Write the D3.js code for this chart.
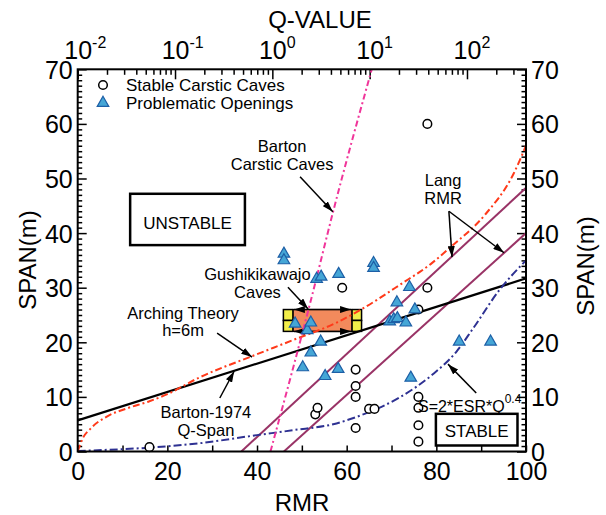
<!DOCTYPE html>
<html><head><meta charset="utf-8">
<script src="https://cdn.jsdelivr.net/npm/d3@7"></script>
<style>
body{margin:0;background:#fff;}
svg{display:block;font-family:"Liberation Sans",Arial,Helvetica,sans-serif;}
</style></head><body>
<svg id="chart" width="606" height="515"></svg>
<script>
// ---------- axis ticks ----------
const rmrTicks = [0, 20, 40, 60, 80, 100];
const rmrMinorTicks = [10, 30, 50, 70, 90];
const spanTicks = [0, 10, 20, 30, 40, 50, 60, 70];
const qTicks = [0.01, 0.1, 1, 10, 100];
const qExponents = ["-2", "-1", "0", "1", "2"];

// ---------- case histories ----------
const stableRMR  = [16, 53, 53.5, 59, 62, 62, 62, 62, 65, 66.2, 76, 76, 76, 76, 76, 78, 78];
const stableSpan = [0.8, 6.8, 8, 30, 15, 12, 10, 4.3, 7.8, 7.8, 10, 8, 4.8, 1.8, 26, 30, 60];

const problemRMR  = [46, 46, 48.5, 51.2, 52, 52, 50.2, 53.3, 54.3, 54.2, 55.2, 58.1, 58.2,
                     66, 66, 69.6, 70.5, 71.3, 73.2, 71.2, 74, 75.2, 74.3, 85.1, 92.1];
const problemSpan = [36.2, 35, 23.4, 22.2, 23.6, 18.1, 15.4, 31.6, 32, 20.1, 13.8, 15.1, 32.5,
                     34.5, 33.6, 23.8, 24.2, 24.4, 23.6, 27.3, 30.1, 26, 13.5, 20.1, 20.1];

// ---------- design curves ----------
const archRMR  = [0, 1, 3, 6.5, 11, 16, 20, 27, 39, 48, 58, 63, 72, 79, 83, 91, 97, 100];
const archSpan = [0, 2.2, 4.3, 6.4, 7.9, 9.2, 10.5, 13.5, 17.5, 20.4, 23.7, 25.9, 30.6, 34.5, 37.3, 43.5, 50.5, 56];

const bartonRMR  = [0, 100];
const bartonSpan = [5.7, 31.7];

const esrRMR  = [0, 6.5, 14, 27, 40, 48, 57, 64, 72, 79, 84.5, 88, 94, 100];
const esrSpan = [0.1, 0.3, 0.6, 1.5, 3.0, 3.9, 5.0, 6.9, 10.0, 14.0, 18.3, 22.3, 29.5, 35];

const carsticRMR  = [43, 52.2, 57, 65.6];
const carsticSpan = [0, 28.3, 44, 70];

const langUpperRMR  = [36.5, 100];
const langUpperSpan = [0, 48.3];
const langLowerRMR  = [46, 100];
const langLowerSpan = [0, 40];

// Gushikikawajo caves: RMR range and span range
const gushiRMR  = [48, 61.2];
const gushiSpan = [22, 26];

// ---------- layout ----------
const plot = {left: 77.7, right: 526, top: 69.3, bottom: 451.5};

const svg = d3.select("#chart");
const x = d3.scaleLinear([0, 100], [plot.left, plot.right]);
const y = d3.scaleLinear([0, 70], [plot.bottom, plot.top]);
const q = d3.scaleLog([0.01, 404], [plot.left, plot.right]);

const zip = (a, b) => a.map((v, i) => [v, b[i]]);

const defs = svg.append("defs");
defs.append("clipPath").attr("id", "plotClip").append("rect")
  .attr("x", plot.left).attr("y", plot.top)
  .attr("width", plot.right - plot.left).attr("height", plot.bottom - plot.top);
defs.append("marker").attr("id", "arrow")
  .attr("viewBox", "0 0 11 7").attr("refX", 11).attr("refY", 3.5)
  .attr("markerWidth", 11).attr("markerHeight", 7)
  .attr("markerUnits", "userSpaceOnUse").attr("orient", "auto-start-reverse")
  .attr("preserveAspectRatio", "none")
  .append("path").attr("d", "M0,0L11,3.5L0,7Z").attr("fill", "#000");

// ---------- axes ----------
const tickFont = 25;
function styleAxis(g) {
  g.select(".domain").remove();
  g.selectAll(".tick line").attr("stroke", "#000").attr("stroke-width", 1.5);
  g.selectAll("text").attr("font-size", tickFont).attr("fill", "#000");
  g.attr("font-family", null).attr("font-size", null);
}

// left
svg.append("g").attr("transform", `translate(${plot.left},0)`)
  .call(d3.axisLeft(y).tickValues(spanTicks).tickSize(-9).tickPadding(5))
  .call(styleAxis).selectAll("text").attr("dy", "0.36em");
svg.append("g").attr("transform", `translate(${plot.left},0)`)
  .call(d3.axisLeft(y).tickValues(d3.range(1, 70).filter(v => v % 10)).tickSize(-4.5).tickFormat(""))
  .call(styleAxis);
// right
svg.append("g").attr("transform", `translate(${plot.right},0)`)
  .call(d3.axisRight(y).tickValues(spanTicks).tickSize(-9).tickPadding(5))
  .call(styleAxis).selectAll("text").attr("dy", "0.36em");
svg.append("g").attr("transform", `translate(${plot.right},0)`)
  .call(d3.axisRight(y).tickValues(d3.range(1, 70).filter(v => v % 10)).tickSize(-4.5).tickFormat(""))
  .call(styleAxis);
// bottom
svg.append("g").attr("transform", `translate(0,${plot.bottom})`)
  .call(d3.axisBottom(x).tickValues(rmrTicks).tickSize(-6).tickPadding(11))
  .call(styleAxis);
svg.append("g").attr("transform", `translate(0,${plot.bottom})`)
  .call(d3.axisBottom(x).tickValues(rmrMinorTicks).tickSize(-6).tickFormat(""))
  .call(styleAxis);
// top (Q, logarithmic)
const topAxis = svg.append("g").attr("transform", `translate(0,${plot.top})`)
  .call(d3.axisTop(q).tickValues(qTicks).tickSize(-10).tickPadding(10).tickFormat(() => "10"))
  .call(styleAxis);
topAxis.selectAll(".tick text")
  .attr("text-anchor", "start").attr("x", -13.9)
  .each(function(d, i) {
    d3.select(this).append("tspan").attr("font-size", 16).attr("dy", -11).text(qExponents[i]);
  });
const qMinor = [];
[-2, -1, 0, 1, 2].forEach(e => { for (let m = 2; m <= 9; m++) { const v = m * Math.pow(10, e); if (v < 404) qMinor.push(v); } });
svg.append("g").attr("transform", `translate(0,${plot.top})`)
  .call(d3.axisTop(q).tickValues(qMinor).tickSize(-5.5).tickFormat(""))
  .call(styleAxis);

// axis titles
svg.append("text").attr("x", 320).attr("y", 28).attr("text-anchor", "middle")
  .attr("font-size", 24).text("Q-VALUE");
svg.append("text").attr("x", 302).attr("y", 511).attr("text-anchor", "middle")
  .attr("font-size", 24).text("RMR");
svg.append("text").attr("transform", "translate(36,260) rotate(-90)").attr("text-anchor", "middle")
  .attr("font-size", 24).text("SPAN(m)");
svg.append("text").attr("transform", "translate(594,266) rotate(-90)").attr("text-anchor", "middle")
  .attr("font-size", 24).text("SPAN(m)");

// ---------- Gushikikawajo caves box ----------
const boxG = svg.append("g");
const bx0 = x(gushiRMR[0]), bx1 = x(gushiRMR[1]);
const by0 = y(gushiSpan[1]), by1 = y(gushiSpan[0]);
boxG.append("rect").attr("x", bx0).attr("y", by0).attr("width", bx1 - bx0).attr("height", by1 - by0)
  .attr("fill", "#f28a5c").attr("stroke", "#000").attr("stroke-width", 1.2);
const sq = 9.5;
[bx0 - sq, bx1].forEach(sx => {
  [by0, (by0 + by1) / 2].forEach(sy => {
    boxG.append("rect").attr("x", sx).attr("y", sy).attr("width", sq).attr("height", (by1 - by0) / 2)
      .attr("fill", "#f2ee4a").attr("stroke", "#000").attr("stroke-width", 1.5);
  });
});

// ---------- curves ----------
const line = d3.line().x(d => x(d[0])).y(d => y(d[1])).curve(d3.curveMonotoneX);
const curves = svg.append("g").attr("clip-path", "url(#plotClip)").attr("fill", "none");
curves.append("path").datum(zip(langUpperRMR, langUpperSpan)).attr("d", line)
  .attr("stroke", "#993366").attr("stroke-width", 2);
curves.append("path").datum(zip(langLowerRMR, langLowerSpan)).attr("d", line)
  .attr("stroke", "#993366").attr("stroke-width", 2);
curves.append("path").datum(zip(bartonRMR, bartonSpan)).attr("d", line)
  .attr("stroke", "#000").attr("stroke-width", 2.2);
curves.append("path").datum(zip(esrRMR, esrSpan)).attr("d", line)
  .attr("stroke", "#2e3192").attr("stroke-width", 2).attr("stroke-dasharray", "8,3,2,3");
curves.append("path").datum(zip(archRMR, archSpan)).attr("d", line)
  .attr("stroke", "#ff3a1a").attr("stroke-width", 2).attr("stroke-dasharray", "7,3,2,3");
curves.append("path").datum(zip(carsticRMR, carsticSpan)).attr("d", line)
  .attr("stroke", "#f0359a").attr("stroke-width", 2).attr("stroke-dasharray", "6,3,2,3");

// double-headed arrows along the box edges
[by0, by1].forEach(ay => {
  boxG.append("line").attr("x1", bx0 + 1).attr("x2", bx1 - 1).attr("y1", ay).attr("y2", ay)
    .attr("stroke", "#000").attr("stroke-width", 1.5)
    .attr("marker-start", "url(#arrow)").attr("marker-end", "url(#arrow)");
});

// ---------- markers ----------
svg.append("g").selectAll("circle").data(zip(stableRMR, stableSpan)).join("circle")
  .attr("cx", d => x(d[0])).attr("cy", d => y(d[1])).attr("r", 4.3)
  .attr("fill", "#fff").attr("stroke", "#000").attr("stroke-width", 1.5);
const tri = d3.symbol(d3.symbolTriangle, 58);
svg.append("g").selectAll("path").data(zip(problemRMR, problemSpan)).join("path")
  .attr("d", tri).attr("transform", d => `translate(${x(d[0])},${y(d[1])})`)
  .attr("fill", "#45a6d6").attr("stroke", "#1d5fa6").attr("stroke-width", 1.2);

// ---------- frame ----------
svg.append("rect").attr("x", plot.left).attr("y", plot.top)
  .attr("width", plot.right - plot.left).attr("height", plot.bottom - plot.top)
  .attr("fill", "none").attr("stroke", "#000").attr("stroke-width", 2);

// ---------- legend ----------
const legend = svg.append("g").attr("font-size", 17);
legend.append("circle").attr("cx", 103).attr("cy", 85).attr("r", 4.3)
  .attr("fill", "#fff").attr("stroke", "#000").attr("stroke-width", 1.5);
legend.append("text").attr("x", 126).attr("y", 91).text("Stable Carstic Caves");
legend.append("path").attr("d", tri).attr("transform", "translate(103,103)")
  .attr("fill", "#45a6d6").attr("stroke", "#1d5fa6").attr("stroke-width", 1.2);
legend.append("text").attr("x", 126).attr("y", 109).text("Problematic Openings");

// ---------- annotations (data coordinates) ----------
const notes = [
  {lines: ["Barton", "Carstic Caves"], at: [45.6, 54.8], gap: 17.5},
  {lines: ["Lang", "RMR"], at: [81.5, 48.6], gap: 17.5},
  {lines: ["Gushikikawajo", "Caves"], at: [40.1, 31.4], gap: 18},
  {lines: ["Arching Theory", "h=6m"], at: [23.5, 24.3], gap: 17.5},
  {lines: ["Barton-1974", "Q-Span"], at: [28.6, 6.1], gap: 17.5}
];
const ann = svg.append("g").attr("font-size", 16.5).attr("text-anchor", "middle");
notes.forEach(n => {
  const t = ann.append("text").attr("x", x(n.at[0])).attr("y", y(n.at[1]));
  n.lines.forEach((s, i) => t.append("tspan").attr("x", x(n.at[0])).attr("dy", i ? n.gap : 0).text(s));
});
const esrLabel = svg.append("text").attr("x", x(75.9)).attr("y", y(7.3)).attr("font-size", 16);
esrLabel.append("tspan").text("S=2*ESR*Q");
esrLabel.append("tspan").attr("font-size", 12).attr("dy", -9).text("0.4");

const arrows = [
  [[49.6, 50.3], [56.9, 43.9]],
  [[82.8, 44.0], [83.5, 35.6]],
  [[82.8, 44.0], [95.1, 36.4]],
  [[46.9, 30.1], [51.4, 26.1]],
  [[31.1, 21.7], [38.9, 17.3]],
  [[31.7, 9.8], [34.9, 14.7]],
  [[88.9, 10.7], [82.6, 16.0]]
];
svg.append("g").selectAll("line").data(arrows).join("line")
  .attr("x1", d => x(d[0][0])).attr("y1", d => y(d[0][1]))
  .attr("x2", d => x(d[1][0])).attr("y2", d => y(d[1][1]))
  .attr("stroke", "#000").attr("stroke-width", 1.5).attr("marker-end", "url(#arrow)");

// stability zone labels
const zones = [
  {text: "UNSTABLE", rmr: [11.7, 37.3], span: [37.8, 47.2], base: 40.7},
  {text: "STABLE", rmr: [79.9, 98.1], span: [1.1, 6.9], base: 2.66}
];
zones.forEach(z => {
  svg.append("rect").attr("x", x(z.rmr[0])).attr("y", y(z.span[1]))
    .attr("width", x(z.rmr[1]) - x(z.rmr[0])).attr("height", y(z.span[0]) - y(z.span[1]))
    .attr("fill", "#fff").attr("stroke", "#000").attr("stroke-width", 2.5);
  svg.append("text").attr("x", (x(z.rmr[0]) + x(z.rmr[1])) / 2).attr("y", y(z.base))
    .attr("text-anchor", "middle").attr("font-size", 17).text(z.text);
});
</script>
</body></html>
